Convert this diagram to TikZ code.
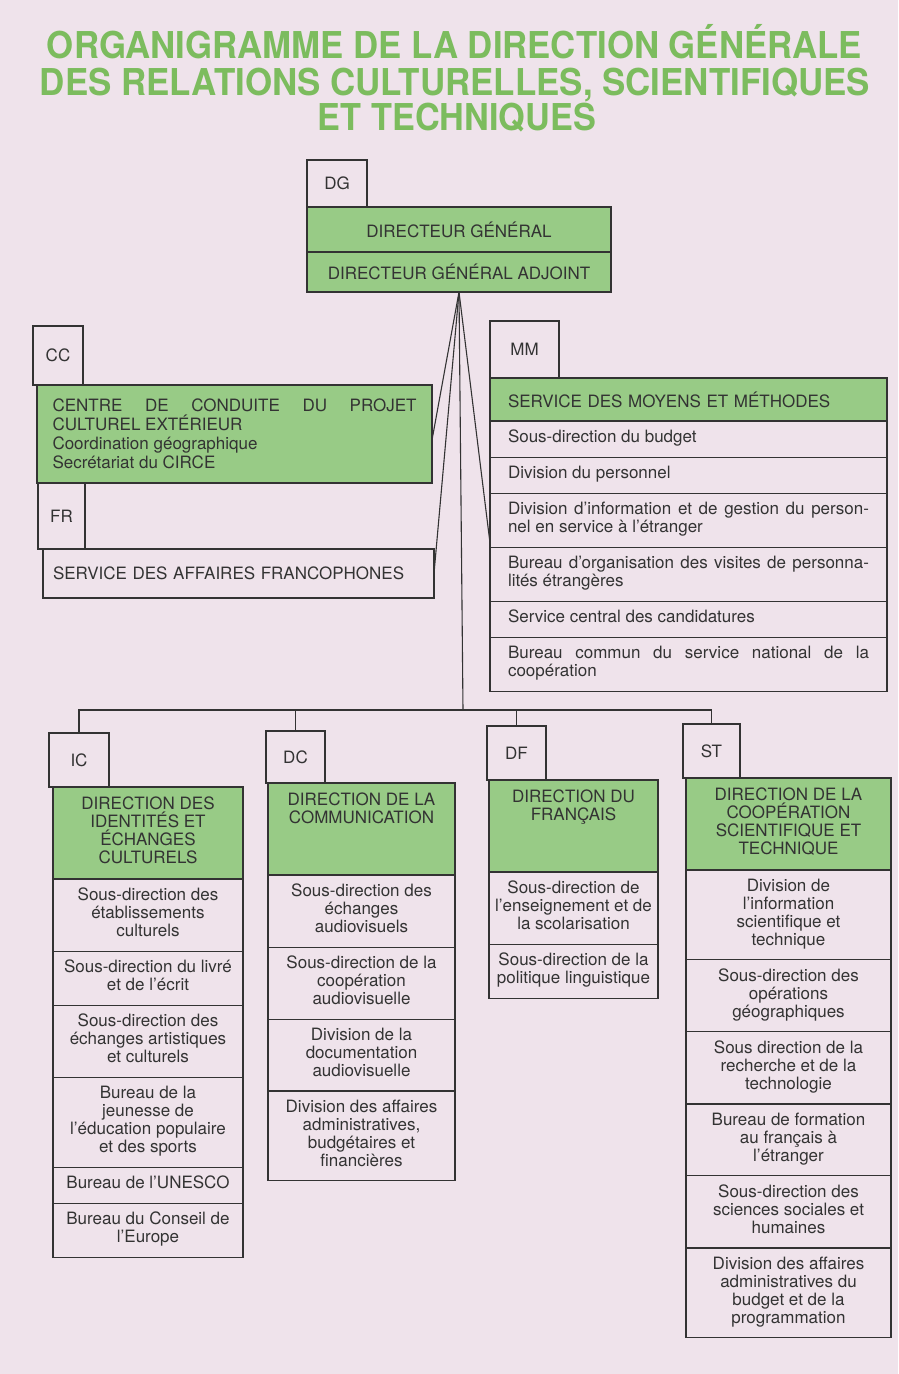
\documentclass[tikz,border=0pt]{standalone}
\usepackage{graphicx}
\usepackage{fontspec}
\setmainfont{TeX Gyre Heros}
\usepackage{tikz}
\usetikzlibrary{positioning, calc}
\definecolor{pageRose}{HTML}{EFE3EB}
\definecolor{titleGreen}{HTML}{7CBC5E}
\definecolor{headGreen}{HTML}{98CB86}
\definecolor{inkGray}{HTML}{333333}
\tolerance=10000
\newcommand{\titleline}[2]{\resizebox{#1}{\height}{\bfseries #2}}
\tikzset{
  link/.style={draw=inkGray, line width=1.1pt},
  tagbox/.style={rectangle, draw=inkGray, line width=1.1pt, text=inkGray,
                 inner sep=0pt, outer sep=0pt, anchor=south west},
  headbox/.style={rectangle, draw=inkGray, line width=1.1pt, fill=headGreen,
                  text=inkGray, inner sep=0pt, outer sep=0pt, align=center},
  colhead/.style={headbox, minimum height=92pt,
                  execute at begin node={\rule{0pt}{26pt}}, execute at end node=\strut},
  rowbox/.style={rectangle, draw=inkGray, line width=1.1pt, text=inkGray,
                 outer sep=0pt, inner xsep=3pt, inner ysep=9pt, align=center,
                 execute at begin node=\strut, execute at end node=\strut},
  listbox/.style={rowbox, text width=361pt, inner xsep=18pt, align=justify},
  titletext/.style={anchor=base, inner sep=0pt, text=titleGreen,
                    font=\fontsize{37}{40}\selectfont},
}

\begin{document}
\begin{tikzpicture}[x=1pt, y=-1pt, font=\fontsize{17}{18}\selectfont]
    \useasboundingbox (0,0) rectangle (898,1374);
    \fill[pageRose] (0,0) rectangle (898,1374);

    % titre
    \node[titletext] (title1) at (454.5,58) {\titleline{815pt}{ORGANIGRAMME DE LA DIRECTION GÉNÉRALE}};
    \node[titletext] (title2) at (455,95) {\titleline{830pt}{DES RELATIONS CULTURELLES, SCIENTIFIQUES}};
    \node[titletext] (title3) at (457,130) {\titleline{278pt}{ET TECHNIQUES}};

    % direction generale
    \node[headbox, anchor=north west, minimum width=304pt, minimum height=45pt] (dg) at (307,207)
      {DIRECTEUR GÉNÉRAL};
    \node[headbox, below=0pt of dg, minimum width=304pt, minimum height=40pt] (dga)
      {DIRECTEUR GÉNÉRAL ADJOINT};
    \node[tagbox, minimum width=60pt, minimum height=47pt] (dgtag) at (dg.north west) {DG};

    % CC et FR
    \node[headbox, anchor=north west, text width=364pt, inner xsep=15.5pt, align=justify,
          minimum height=98pt, font=\fontsize{17}{19}\selectfont] (cc) at (37,385)
      {CENTRE DE CONDUITE DU PROJET\linebreak CULTUREL EXTÉRIEUR\\Coordination géographique\\Secrétariat du CIRCE};
    \node[tagbox, minimum width=50pt, minimum height=59pt] (cctag) at ([xshift=-4pt]cc.north west) {CC};
    \node[rectangle, draw=inkGray, line width=1.1pt, text=inkGray, outer sep=0pt,
          anchor=north west, text width=371pt, inner xsep=10pt, align=left,
          minimum height=49pt] (fr) at (43,549) {SERVICE DES AFFAIRES FRANCOPHONES};
    \node[tagbox, minimum width=47pt, minimum height=66pt] (frtag) at ([xshift=-5pt]fr.north west) {FR};

    % MM
    \node[headbox, anchor=north west, text width=361pt, inner xsep=18pt, align=left,
          minimum height=43pt] (mm) at (490,378) {SERVICE DES MOYENS ET MÉTHODES};
    \node[tagbox, minimum width=69pt, minimum height=57pt] (mmtag) at (mm.north west) {MM};
    \node[listbox, below=0pt of mm] (mm1) {Sous-direction du budget};
    \node[listbox, below=0pt of mm1] (mm2) {Division du personnel};
    \node[listbox, below=0pt of mm2] (mm3)
      {Division d'information et de gestion du person-\linebreak nel en service à l'étranger};
    \node[listbox, below=0pt of mm3] (mm4)
      {Bureau d'organisation des visites de personna-\linebreak lités étrangères};
    \node[listbox, below=0pt of mm4] (mm5) {Service central des candidatures};
    \node[listbox, below=0pt of mm5] (mm6)
      {Bureau commun du service national de la\linebreak coopération};

    % IC
    \begin{scope}[every node/.append style={minimum width=190pt}]
      \node[colhead, anchor=north west] (ich) at (53,787)
        {DIRECTION DES\\IDENTITÉS ET\\ÉCHANGES\\CULTURELS};
      \node[rowbox, below=0pt of ich] (ic1) {Sous-direction des\\établissements\\culturels};
      \node[rowbox, below=0pt of ic1] (ic2) {Sous-direction du livré\\et de l'écrit};
      \node[rowbox, below=0pt of ic2] (ic3) {Sous-direction des\\échanges artistiques\\et culturels};
      \node[rowbox, below=0pt of ic3] (ic4) {Bureau de la\\jeunesse de\\l'éducation populaire\\et des sports};
      \node[rowbox, below=0pt of ic4] (ic5) {Bureau de l'UNESCO};
      \node[rowbox, below=0pt of ic5] (ic6) {Bureau du Conseil de\\l'Europe};
      \node[tagbox, minimum width=60pt, minimum height=54pt] (ictag) at ([xshift=-4pt]ich.north west) {IC};
    \end{scope}

    % DC
    \begin{scope}[every node/.append style={minimum width=187pt}]
      \node[colhead, anchor=north west] (dch) at (268,783)
        {DIRECTION DE LA\\COMMUNICATION\\\strut\\\strut};
      \node[rowbox, below=0pt of dch] (dc1) {Sous-direction des\\échanges\\audiovisuels};
      \node[rowbox, below=0pt of dc1] (dc2) {Sous-direction de la\\coopération\\audiovisuelle};
      \node[rowbox, below=0pt of dc2] (dc3) {Division de la\\documentation\\audiovisuelle};
      \node[rowbox, below=0pt of dc3] (dc4) {Division des affaires\\administratives,\\budgétaires et\\financières};
      \node[tagbox, minimum width=59pt, minimum height=52pt] (dctag) at ([xshift=-2pt]dch.north west) {DC};
    \end{scope}

    % DF
    \begin{scope}[every node/.append style={minimum width=169pt}]
      \node[colhead, anchor=north west] (dfh) at (489,780)
        {DIRECTION DU\\FRANÇAIS\\\strut\\\strut};
      \node[rowbox, below=0pt of dfh] (df1) {Sous-direction de\\l'enseignement et de\\la scolarisation};
      \node[rowbox, below=0pt of df1] (df2) {Sous-direction de la\\politique linguistique};
      \node[tagbox, minimum width=59pt, minimum height=54pt] (dftag) at ([xshift=-2pt]dfh.north west) {DF};
    \end{scope}

    % ST
    \begin{scope}[every node/.append style={minimum width=205pt}]
      \node[colhead, anchor=north west] (sth) at (686,778)
        {DIRECTION DE LA\\COOPÉRATION\\SCIENTIFIQUE ET\\TECHNIQUE};
      \node[rowbox, below=0pt of sth] (st1) {Division de\\l'information\\scientifique et\\technique};
      \node[rowbox, below=0pt of st1] (st2) {Sous-direction des\\opérations\\géographiques};
      \node[rowbox, below=0pt of st2] (st3) {Sous direction de la\\recherche et de la\\technologie};
      \node[rowbox, below=0pt of st3] (st4) {Bureau de formation\\au français à\\l'étranger};
      \node[rowbox, below=0pt of st4] (st5) {Sous-direction des\\sciences sociales et\\humaines};
      \node[rowbox, below=0pt of st5] (st6) {Division des affaires\\administratives du\\budget et de la\\programmation};
      \node[tagbox, minimum width=57pt, minimum height=54pt] (sttag) at ([xshift=-3pt]sth.north west) {ST};
    \end{scope}

    % liaisons
    \coordinate (bus) at (463,710);
    \draw[link] (dga.south) -- ([yshift=-6pt]cc.east);
    \draw[link] (dga.south) -- (fr.east);
    \draw[link] (dga.south) -- ([yshift=4pt]mm3.south west);
    \draw[link] (dga.south) -- (bus);
    \draw[link] (ictag.north) |- (bus) -| (sttag.north);
    \draw[link] (dctag.north) -- (dctag.north |- bus);
    \draw[link] (dftag.north) -- (dftag.north |- bus);
  \end{tikzpicture}
\end{document}
